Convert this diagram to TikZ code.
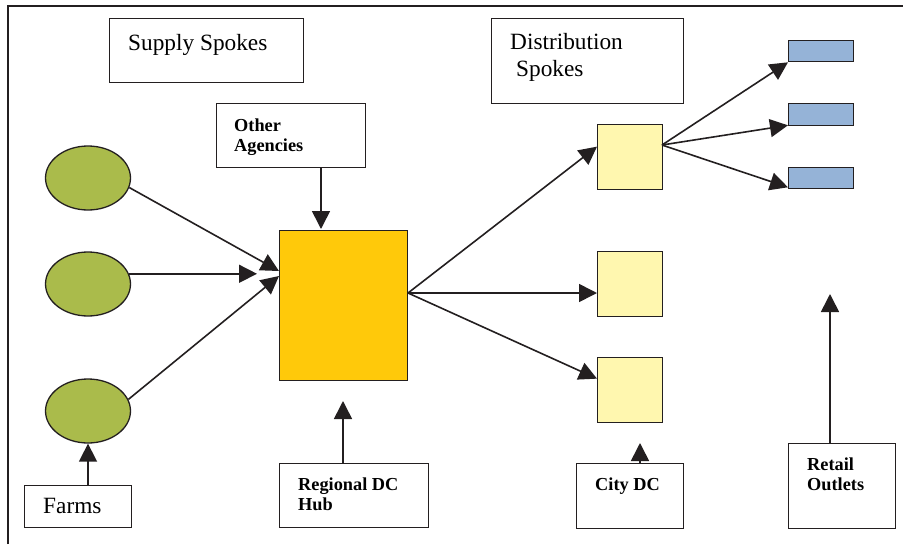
\documentclass[tikz,border=0pt]{standalone}
\usepackage{fontspec}
\setmainfont{Liberation Serif}
\usetikzlibrary{arrows.meta,shapes.geometric,calc}
\definecolor{linec}{HTML}{231F20}
\definecolor{hubc}{HTML}{FFC90A}
\definecolor{farmc}{HTML}{AABB4B}
\definecolor{cityc}{HTML}{FFF7AF}
\definecolor{retc}{HTML}{95B3D7}
\begin{document}
\begin{tikzpicture}[x=1pt,y=-1pt,
  box/.style={draw=linec, line width=1.3pt, rectangle, inner sep=0pt, anchor=north west},
  farm/.style={draw=linec, line width=1.3pt, ellipse, fill=farmc, minimum width=85pt, minimum height=64pt, inner sep=0pt},
  arr/.style={draw=linec, line width=1.6pt, -{Triangle[length=18pt,width=18pt]}},
  big/.style={anchor=base west, inner sep=0pt, font=\fontsize{23.3}{27}\selectfont},
  lbl/.style={anchor=base west, inner sep=0pt, font=\fontsize{18.3}{20.5}\selectfont\bfseries}]
\useasboundingbox (0,0) rectangle (903,544);
% frame
\draw[linec, line width=1.3pt] (8,544) -- (8,6) -- (903,6);
% label boxes
\node[box, minimum width=194pt, minimum height=64pt] (ss) at (109,18) {};
\node[box, minimum width=192pt, minimum height=85pt] (ds) at (491,18) {};
\node[box, minimum width=149pt, minimum height=64pt] (oa) at (216,103) {};
\node[box, minimum width=149pt, minimum height=64pt] (rdc) at (279,463) {};
\node[box, minimum width=107pt, minimum height=42pt] (farms) at (24,485) {};
\node[box, minimum width=107pt, minimum height=65pt] (cdc) at (576,463) {};
\node[box, minimum width=107pt, minimum height=85pt] (ro) at (788,443) {};
% texts
\node[big] at (128,50) {Supply Spokes};
\node[big] at (510,49) {Distribution};
\node[big] at (516,76) {Spokes};
\node[big] at (43,513) {Farms};
\node[lbl] at (234,131.5) {Other};
\node[lbl] at (234,151.5) {Agencies};
\node[lbl] at (298,490) {Regional DC};
\node[lbl] at (298,510.5) {Hub};
\node[lbl] at (595,490) {City DC};
\node[lbl] at (807,470) {Retail};
\node[lbl] at (807,490) {Outlets};
% farms
\node[farm] (e1) at (88,178) {};
\node[farm] (e2) at (88,284) {};
\node[farm] (e3) at (88,411) {};
% hub
\node[box, fill=hubc, minimum width=128pt, minimum height=150pt] (hub) at (279,230) {};
% city DCs
\node[box, fill=cityc, minimum width=65pt, minimum height=65pt] (c1) at (597,124) {};
\node[box, fill=cityc, minimum width=65pt, minimum height=65pt] (c2) at (597,251) {};
\node[box, fill=cityc, minimum width=65pt, minimum height=65pt] (c3) at (597,357) {};
% retail outlets
\node[box, fill=retc, minimum width=65pt, minimum height=21pt] (r1) at (788,40) {};
\node[box, fill=retc, minimum width=65pt, minimum height=22pt] (r2) at (788,103) {};
\node[box, fill=retc, minimum width=65pt, minimum height=21pt] (r3) at (788,167) {};
% coordinates
\coordinate (hin1) at (279,271);
\coordinate (hin2) at (257,273);
\coordinate (hin3) at (279,276);
\coordinate (hout) at (408,293);
\coordinate (oain) at (321,229);
\coordinate (rdctip) at (343,401);
\coordinate (cdtip) at (640,443);
\coordinate (rotip) at (830,294);
\coordinate (c1out) at (662,145);
% connectors
\draw[arr] (e1.-13) -- (hin1);
\draw[arr] (e2.14) -- (e2.14 -| hin2);
\draw[arr] (e3.16) -- (hin3);
\draw[arr] (oain |- oa.south) -- (oain);
\draw[arr] (hout) -- ($(c1.west)+(0,-10.5)$);
\draw[arr] (hout) -- (hout -| c2.west);
\draw[arr] (hout) -- ($(c3.west)+(0,-11.5)$);
\draw[arr] (c1out) -- (r1.south west);
\draw[arr] (c1out) -- ($(r2.south west)+(0,-1)$);
\draw[arr] (c1out) -- ($(r3.south west)+(0,-2)$);
\draw[arr] (farms.north -| e3.south) -- (e3.south);
\draw[arr] (rdctip |- rdc.north) -- (rdctip);
\draw[arr] (cdtip |- cdc.north) -- (cdtip);
\draw[arr] (rotip |- ro.north) -- (rotip);
\end{tikzpicture}
\end{document}
